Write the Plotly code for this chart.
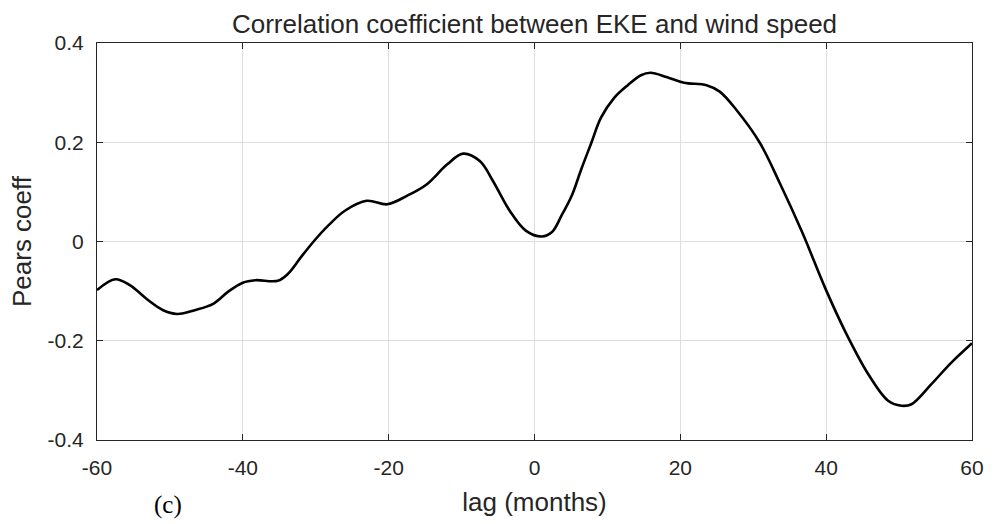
import plotly.graph_objects as go

# Lag (months) and Pearson correlation coefficient between EKE and wind speed
lag_months = [-60, -57.5, -55.5, -53, -51, -49, -46.5, -44, -42, -40, -38.3,
              -35.2, -33.8, -32, -30, -28.3, -26, -23, -20.2, -17.5, -14.8,
              -12, -9.8, -7.5, -5.7, -3.4, -1.2, 1.0, 2.4, 3.7, 5.1, 6.4, 7.8,
              9.1, 10.9, 12.8, 14.6, 15.9, 18.2, 20.5, 23.6, 25.4, 27.7, 30.9,
              33.6, 36.7, 39.9, 42.6, 45.8, 48.5, 50.3, 51.7, 54.4, 57.1, 60]
pears_coeff = [-0.098, -0.076, -0.088, -0.118, -0.138, -0.146, -0.138, -0.125,
               -0.101, -0.083, -0.078, -0.079, -0.065, -0.031, 0.005, 0.032,
               0.062, 0.082, 0.075, 0.092, 0.115, 0.155, 0.177, 0.162, 0.122,
               0.062, 0.022, 0.010, 0.019, 0.052, 0.092, 0.145, 0.199, 0.249,
               0.289, 0.315, 0.335, 0.340, 0.331, 0.320, 0.315, 0.302, 0.265,
               0.199, 0.119, 0.019, -0.095, -0.181, -0.268, -0.321, -0.331,
               -0.328, -0.288, -0.245, -0.205]

x_ticks = [-60, -40, -20, 0, 20, 40, 60]
x_tick_text = ["-60", "-40", "-20", "0", "20", "40", "60"]
y_ticks = [-0.4, -0.2, 0, 0.2, 0.4]
y_tick_text = ["-0.4", "-0.2", "0", "0.2", "0.4"]

FONT = "Liberation Sans, Arial, Helvetica, sans-serif"
TXT = "#262626"
GRID = "#dedede"

fig = go.Figure()
fig.add_trace(go.Scatter(
    x=lag_months, y=pears_coeff, mode="lines",
    line=dict(color="black", width=2.6, shape="spline", smoothing=1.0),
    showlegend=False, hoverinfo="x+y",
))

axis_common = dict(
    showline=True, linecolor=TXT, linewidth=1.2, mirror="ticks",
    ticks="inside", ticklen=6, tickcolor=TXT, tickwidth=1,
    showgrid=True, gridcolor=GRID, gridwidth=1, zeroline=False,
    tickfont=dict(family=FONT, size=21, color=TXT),
)

fig.update_xaxes(
    range=[-60, 60], tickvals=x_ticks, ticktext=x_tick_text,
    ticklabelstandoff=9,
    title=dict(text="lag (months)", standoff=14,
               font=dict(family=FONT, size=26, color=TXT)),
    **axis_common,
)
fig.update_yaxes(
    range=[-0.4, 0.4], tickvals=y_ticks, ticktext=y_tick_text,
    ticklabelstandoff=8,
    title=dict(text="Pears coeff", standoff=8,
               font=dict(family=FONT, size=26, color=TXT)),
    **axis_common,
)

fig.add_annotation(
    text="(c)", xref="paper", yref="paper", x=(168 - 97) / 879,
    y=-(505 - 440) / 397, xanchor="center", yanchor="middle",
    showarrow=False, font=dict(family="Liberation Serif, DejaVu Serif, serif",
                               size=25, color="black"),
)

fig.update_layout(
    width=996, height=524,
    margin=dict(l=97, r=20, t=43, b=84),
    paper_bgcolor="white", plot_bgcolor="white",
    title=dict(text="Correlation coefficient between EKE and wind speed",
               x=0.5, xref="paper", xanchor="center",
               y=1 - 24 / 524, yref="container", yanchor="middle",
               font=dict(family=FONT, size=26, color=TXT)),
)

fig.write_html("out.html")
